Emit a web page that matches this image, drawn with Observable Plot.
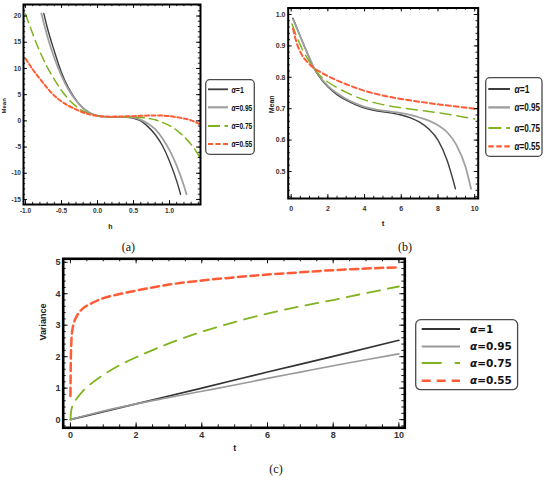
<!DOCTYPE html>
<html><head><meta charset="utf-8">
<script src="https://cdn.jsdelivr.net/npm/d3@7"></script>
<script src="https://cdn.jsdelivr.net/npm/@observablehq/plot@0.6"></script>
<style>
body{margin:0;background:#fff;}
#fig{position:relative;width:550px;height:477px;background:#fff;overflow:hidden;}
.panel{position:absolute;}
.cap{position:absolute;font-family:"Liberation Serif","Times New Roman",serif;font-size:12px;color:#111;transform:translate(-50%,-50%);white-space:nowrap;}
</style></head><body><div id="fig"></div>
<script>
// ---------- data: panel (a) Mean vs h ----------
const aH1 = [-0.746,-0.7,-0.6,-0.5,-0.4,-0.3,-0.2,-0.1,0,0.1,0.2,0.3,0.4,0.5,0.6,0.7,0.8,0.9,1.0,1.1,1.153];
const aMean1 = [20.5,17.9,13.3,9.2,6.2,4.0,2.4,1.45,0.95,0.8,0.75,0.74,0.7,0.5,0.0,-1.1,-2.6,-4.7,-7.7,-11.5,-14.0];
const aH095 = [-0.78,-0.7,-0.6,-0.5,-0.4,-0.3,-0.2,-0.1,0,0.1,0.2,0.3,0.4,0.5,0.6,0.7,0.8,0.9,1.0,1.1,1.2,1.236];
const aMean095 = [20.5,16.3,12.0,8.6,5.9,3.9,2.45,1.5,1.0,0.8,0.75,0.74,0.72,0.6,0.2,-0.5,-1.6,-3.3,-5.6,-8.6,-12.4,-14.0];
const aH075 = [-1.0,-0.9,-0.8,-0.7,-0.6,-0.5,-0.4,-0.3,-0.2,-0.1,0,0.1,0.2,0.3,0.4,0.5,0.6,0.7,0.8,0.9,1.0,1.1,1.2,1.3,1.42];
const aMean075 = [20.4,16.6,13.2,10.3,7.9,5.8,4.1,2.8,1.9,1.3,0.95,0.8,0.75,0.75,0.75,0.72,0.65,0.5,0.2,-0.3,-0.9,-1.8,-3.0,-4.5,-6.9];
const aH055 = [-1.0,-0.9,-0.8,-0.7,-0.6,-0.5,-0.4,-0.3,-0.2,-0.1,0,0.1,0.2,0.3,0.4,0.5,0.6,0.7,0.8,0.9,1.0,1.1,1.2,1.3,1.42];
const aMean055 = [11.9,9.8,8.0,6.3,4.8,3.7,2.85,2.2,1.6,1.2,0.95,0.82,0.8,0.82,0.86,0.9,0.95,1.0,1.03,1.0,0.9,0.7,0.45,0.1,-0.6];
const aXTicks = [-1.0,-0.5,0.0,0.5,1.0];
const aXTickLabels = ["-1.0","-0.5","0.0","0.5","1.0"];
const aYTicks = [-15,-10,-5,0,5,10,15,20];
const aYTickLabels = ["-15","-10","-5","0","5","10","15","20"];

// ---------- data: panel (b) Mean vs t ----------
const bT1 = [0.1,0.5,1.0,1.25,1.5,2.0,2.5,3.0,3.5,4.0,4.5,5.0,5.5,6.0,6.5,7.0,7.5,8.0,8.5,8.95];
const bMean1 = [0.988,0.93,0.86,0.828,0.805,0.77,0.745,0.727,0.713,0.702,0.695,0.69,0.686,0.68,0.671,0.657,0.635,0.6,0.535,0.445];
const bT095 = [0.1,0.5,1.0,1.25,1.5,2.0,2.5,3.0,3.5,4.0,4.5,5.0,5.5,6.0,6.5,7.0,7.5,8.0,8.5,9.0,9.5,9.8];
const bMean095 = [0.985,0.93,0.862,0.83,0.807,0.773,0.749,0.731,0.717,0.706,0.699,0.694,0.69,0.686,0.68,0.672,0.662,0.647,0.625,0.585,0.515,0.445];
const bT075 = [0.05,0.3,0.6,1.0,1.25,1.5,2.0,2.5,3.0,4.0,5.0,6.0,7.0,8.0,9.0,10.0];
const bMean075 = [0.97,0.93,0.89,0.85,0.829,0.81,0.785,0.767,0.752,0.728,0.713,0.703,0.695,0.687,0.678,0.667];
const bT055 = [0.1,0.3,0.6,1.0,1.25,1.5,2.0,2.5,3.0,4.0,5.0,6.0,7.0,8.0,9.0,10.0];
const bMean055 = [0.955,0.91,0.87,0.842,0.829,0.82,0.804,0.79,0.778,0.757,0.742,0.731,0.722,0.714,0.707,0.70];
const bXTicks = [0,2,4,6,8,10];
const bXTickLabels = ["0","2","4","6","8","10"];
const bYTicks = [0.5,0.6,0.7,0.8,0.9,1.0];
const bYTickLabels = ["0.5","0.6","0.7","0.8","0.9","1.0"];

// ---------- data: panel (c) Variance vs t ----------
const cT1 = [0,2,4,6,8,10];
const cVar1 = [0,0.5,1.0,1.51,2.01,2.52];
const cT095 = [0,0.5,1,2,3,4,5,6,7,8,9,10];
const cVar095 = [0,0.14,0.27,0.5,0.7,0.9,1.1,1.31,1.51,1.71,1.9,2.09];
const cT075 = [0,0.02,0.05,0.1,0.2,0.4,0.7,1.0,1.5,2,3,4,5,6,7,8,9,10];
const cVar075 = [0,0.25,0.4,0.52,0.68,0.93,1.2,1.42,1.73,1.98,2.42,2.79,3.1,3.37,3.6,3.8,4.02,4.23];
const cT055 = [0.0,0.01,0.03,0.06,0.1,0.2,0.4,0.6,1.0,1.5,2,3,4,5,6,7,8,9,10];
const cVar055 = [0.75,1.8,2.5,2.85,3.05,3.3,3.55,3.67,3.86,3.99,4.1,4.29,4.42,4.52,4.61,4.68,4.75,4.8,4.84];
const cXTicks = [0,2,4,6,8,10];
const cXTickLabels = ["0","2","4","6","8","10"];
const cYTicks = [0,1,2,3,4,5];
const cYTickLabels = ["0","1","2","3","4","5"];

const alphaLabels = ["1","0.95","0.75","0.55"];

// ---------- styles ----------
const DARK = "#3d3d3d", GRAY = "#a0a0a0", GREEN = "#80b320", ORANGE = "#ff5b35";

const rows = (xs, ys) => xs.map((x, i) => ({x, y: ys[i]}));
const fig = document.getElementById("fig");
function place(el, left, top) {
  const d = document.createElement("div");
  d.className = "panel"; d.style.left = left + "px"; d.style.top = top + "px";
  d.appendChild(el); fig.appendChild(d);
}
const inDom = (arr, dom) => arr.filter(v => v >= dom[0] && v <= dom[1]);

function panel(o) {
  const [mt, mr, mb, ml] = o.margin;
  const iw = o.width - ml - mr, ih = o.height - mt - mb;
  const marks = [];
  for (const s of o.series) {
    marks.push(Plot.line(s.data, {x: "x", y: "y", stroke: s.color, strokeWidth: s.width,
      strokeDasharray: s.dash, curve: "monotone-x"}));
  }
  const xMinor = inDom(o.xMinor, o.xDomain), yMinor = inDom(o.yMinor, o.yDomain);
  for (const [ticks, len] of [[xMinor, o.minorLen], [o.xTicks, o.majorLen]]) {
    marks.push(Plot.ruleX(ticks, {x: d => d, insetTop: ih - len, stroke: "#000", strokeWidth: 0.9}));
    marks.push(Plot.ruleX(ticks, {x: d => d, insetBottom: ih - len, stroke: "#000", strokeWidth: 0.9}));
  }
  for (const [ticks, len] of [[yMinor, o.minorLen], [o.yTicks, o.majorLen]]) {
    marks.push(Plot.ruleY(ticks, {y: d => d, insetRight: iw - len, stroke: "#000", strokeWidth: 0.9}));
    marks.push(Plot.ruleY(ticks, {y: d => d, insetLeft: iw - len, stroke: "#000", strokeWidth: 0.9}));
  }
  marks.push(Plot.frame({stroke: "#000", strokeWidth: o.frameWidth}));
  marks.push(Plot.text([o.xLabel], {text: d => d, frameAnchor: "bottom", dx: o.xLabelDx, dy: o.xLabelDy,
    fontSize: o.labelSize, fontWeight: "bold", fill: "#222"}));
  marks.push(Plot.text([o.yLabel], {text: d => d, frameAnchor: "left", dx: o.yLabelDx, dy: o.yLabelDy,
    rotate: -90, fontSize: o.yLabelSize, fontWeight: "bold", fill: "#222"}));
  return Plot.plot({
    width: o.width, height: o.height,
    marginTop: mt, marginRight: mr, marginBottom: mb, marginLeft: ml,
    x: {domain: o.xDomain, ticks: o.xTicks, tickFormat: d => o.xTickLabels[o.xTicks.indexOf(d)],
        tickSize: 0, tickPadding: o.padX, label: null},
    y: {domain: o.yDomain, ticks: o.yTicks, tickFormat: d => o.yTickLabels[o.yTicks.indexOf(d)],
        tickSize: 0, tickPadding: o.padY, label: null},
    style: {fontFamily: "'Liberation Sans', Arial, sans-serif", fontSize: o.tickFont + "px",
            fontWeight: "bold", color: "#333", background: "transparent", overflow: "visible"},
    marks
  });
}

function legend(o) {
  const svg = d3.create("svg").attr("width", o.width + 8).attr("height", o.height + 2)
    .style("position", "absolute").style("left", o.left + "px").style("top", o.top + "px")
    .style("overflow", "visible");
  svg.append("rect").attr("x", 0.7).attr("y", 0.7).attr("width", o.width - 1.4).attr("height", o.height - 1.4)
    .attr("rx", o.radius).attr("fill", "#fff").attr("stroke", "#4a4a4a").attr("stroke-width", 1.3);
  o.styles.forEach((s, i) => {
    const y = o.rowsY[i];
    svg.append("line").attr("x1", o.x1).attr("x2", o.x2).attr("y1", y).attr("y2", y)
      .attr("stroke", s.color).attr("stroke-width", s.width).attr("stroke-dasharray", s.dash || null);
    const t = svg.append("text").attr("x", o.textX).attr("y", y).attr("dy", "0.36em")
      .attr("font-family", o.font).attr("font-size", o.fontSize).attr("font-weight", "bold").attr("fill", "#111");
    if (o.textLengths) t.attr("textLength", o.textLengths[i]).attr("lengthAdjust", "spacingAndGlyphs");
    t.append("tspan").attr("font-style", "italic").text("α");
    t.append("tspan").text("=" + alphaLabels[i]);
  });
  fig.appendChild(svg.node());
}

// ---------- panel (a) ----------
place(panel({
  width: 205, height: 240, margin: [4, 5, 36, 23],
  xDomain: [-1.028, 1.43], yDomain: [-15.96, 22.2],
  xTicks: aXTicks, xTickLabels: aXTickLabels, yTicks: aYTicks, yTickLabels: aYTickLabels,
  xMinor: d3.range(-10, 15).map(v => v / 10), yMinor: d3.range(-15, 23),
  majorLen: 4, minorLen: 2.2, frameWidth: 2, tickFont: 6.5, padX: 3.7, padY: 2.5,
  xLabel: "h", xLabelDx: -1.5, xLabelDy: 24.3, labelSize: 7,
  yLabel: "Mean", yLabelDx: -19.5, yLabelDy: 9, yLabelSize: 6,
  series: [
    {data: rows(aH1, aMean1), color: DARK, width: 1.4},
    {data: rows(aH095, aMean095), color: GRAY, width: 1.8},
    {data: rows(aH075, aMean075), color: GREEN, width: 1.5, dash: "9,5"},
    {data: rows(aH055, aMean055), color: ORANGE, width: 2, dash: "4,2.5"}
  ]
}), 0, 0);

// ---------- panel (b) ----------
place(panel({
  width: 220, height: 240, margin: [7.5, 4.3, 42, 25.7],
  xDomain: [-0.16, 10.19], yDomain: [0.414, 1.0207],
  xTicks: bXTicks, xTickLabels: bXTickLabels, yTicks: bYTicks, yTickLabels: bYTickLabels,
  xMinor: d3.range(0, 21).map(v => v / 2), yMinor: d3.range(21, 52).map(v => v / 50),
  majorLen: 4, minorLen: 2.2, frameWidth: 2, tickFont: 7, padX: 8, padY: 2.7,
  xLabel: "t", xLabelDx: 0, xLabelDy: 27, labelSize: 8,
  yLabel: "Mean", yLabelDx: -16.2, yLabelDy: 10, yLabelSize: 7,
  series: [
    {data: rows(bT1, bMean1), color: DARK, width: 1.4},
    {data: rows(bT095, bMean095), color: GRAY, width: 1.8},
    {data: rows(bT075, bMean075), color: GREEN, width: 1.5, dash: "11,6"},
    {data: rows(bT055, bMean055), color: ORANGE, width: 2, dash: "5,3"}
  ]
}), 262, 0);

// ---------- panel (c) ----------
place(panel({
  width: 410, height: 215, margin: [8.3, 5.7, 37.7, 62.7],
  xDomain: [-0.22, 10.18], yDomain: [-0.26, 5.11],
  xTicks: cXTicks, xTickLabels: cXTickLabels, yTicks: cYTicks, yTickLabels: cYTickLabels,
  xMinor: d3.range(0, 21).map(v => v / 2), yMinor: d3.range(-1, 26).map(v => v / 5),
  majorLen: 5, minorLen: 3, frameWidth: 2.6, tickFont: 9, padX: 4, padY: 2.7,
  xLabel: "t", xLabelDx: 0.8, xLabelDy: 23.4, labelSize: 9,
  yLabel: "Variance", yLabelDx: -20, yLabelDy: -2.8, yLabelSize: 9,
  series: [
    {data: rows(cT1, cVar1), color: "#333", width: 1.6},
    {data: rows(cT095, cVar095), color: "#999", width: 1.6},
    {data: rows(cT075, cVar075), color: GREEN, width: 1.8, dash: "13,8"},
    {data: rows(cT055, cVar055), color: ORANGE, width: 2.5, dash: "8,4.5"}
  ]
}), 0, 250);

// ---------- legends ----------
legend({left: 205, top: 79, width: 50, height: 76, radius: 4,
  rowsY: [10.3, 28.3, 47, 65], x1: 3, x2: 23, textX: 26.5, fontSize: 9,
  font: "'Liberation Sans', Arial, sans-serif", textLengths: [12.3, 20.8, 20.8, 20.8],
  styles: [{color: DARK, width: 1.8}, {color: GRAY, width: 2.2},
           {color: GREEN, width: 1.8, dash: "12,4.5"}, {color: ORANGE, width: 2.2, dash: "5,2.5"}]});
legend({left: 485, top: 77.3, width: 57.7, height: 80, radius: 4,
  rowsY: [12, 30.4, 51, 69.4], x1: 3.3, x2: 25, textX: 29.5, fontSize: 10.5,
  font: "'Liberation Sans', Arial, sans-serif", textLengths: [15, 25.5, 25.5, 25.5],
  styles: [{color: DARK, width: 2}, {color: GRAY, width: 2.4},
           {color: GREEN, width: 2, dash: "13,5"}, {color: ORANGE, width: 2.4, dash: "5.5,2.5"}]});
legend({left: 415, top: 319.3, width: 103.3, height: 71.4, radius: 5,
  rowsY: [10, 27.4, 44, 61.7], x1: 6.7, x2: 45, textX: 55, fontSize: 10.5,
  font: "'DejaVu Sans', sans-serif",
  styles: [{color: "#333", width: 2.2}, {color: "#999", width: 2},
           {color: GREEN, width: 2.2, dash: "20,13"}, {color: ORANGE, width: 2.5, dash: "9,6"}]});

// ---------- captions ----------
for (const [txt, x, y] of [["(a)", 128.3, 246.7], ["(b)", 405, 246.5], ["(c)", 276, 468.5]]) {
  const c = document.createElement("div");
  c.className = "cap"; c.textContent = txt; c.style.left = x + "px"; c.style.top = y + "px";
  fig.appendChild(c);
}
</script></body></html>
